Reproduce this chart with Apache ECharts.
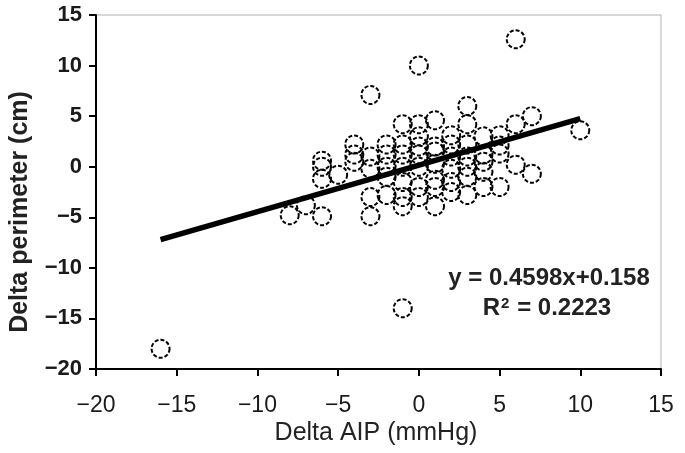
<!DOCTYPE html>
<html>
<head>
<meta charset="utf-8">
<script src="https://cdn.jsdelivr.net/npm/echarts@6/dist/echarts.min.js"></script>
<style>
html,body{margin:0;padding:0;background:#fff;}
#chart{width:685px;height:453px;}
</style>
</head>
<body>
<div id="chart"></div>
<script>
// Delta AIP (mmHg) values of the observations
const deltaAIP = [
  -16,
  -8, -7,
  -6, -6, -6, -6,
  -5,
  -4, -4, -4,
  -3, -3, -3, -3, -3,
  -2, -2, -2, -2, -2,
  -1, -1, -1, -1, -1, -1, -1, -1,
  0, 0, 0, 0, 0, 0, 0, 0,
  1, 1, 1, 1, 1, 1, 1,
  2, 2, 2, 2, 2, 2,
  3, 3, 3, 3, 3, 3, 3,
  4, 4, 4, 4, 4,
  5, 5, 5, 5,
  6, 6, 6,
  7, 7,
  10
];
// Delta perimeter (cm) values of the observations
const deltaPerimeter = [
  -18,
  -4.8, -3.8,
  0.6, 0, -1.2, -4.9,
  -0.8,
  2.2, 1.2, 0.5,
  7.1, 1, -0.2, -3, -4.9,
  2.2, 1.2, 0, -1, -2.8,
  4.2, 2.2, 1.2, 0, -1.5, -3, -3.9, -14,
  10, 4.2, 3, 2, 1.2, 0, -2, -3,
  4.6, 2, 1.5, 0.3, -1.3, -2, -3.9,
  3.1, 2.2, 1, -0.2, -1.5, -2.5,
  6, 4.2, 2.2, 1, 0, -1, -2.8,
  3, 1.2, 0.5, -0.5, -2,
  3.1, 2.1, 1.3, -2,
  12.6, 4.2, 0.2,
  5, -0.7,
  3.6
];
// Fitted trend line end points
const trendX = [-16, 10];
const trendY = [-7.2, 4.76];
const equationText = 'y = 0.4598x+0.158';
const r2Text = 'R{sup|2} = 0.2223';
const xName = 'Delta AIP (mmHg)';
const yName = 'Delta perimeter (cm)';

const points = deltaAIP.map((x, i) => [x, deltaPerimeter[i]]);
const trend = trendX.map((x, i) => [x, trendY[i]]);

const fontFam = '"Liberation Sans", Arial, Helvetica, sans-serif';
const minus = v => String(v).replace('-', '\u2212');

const chart = echarts.init(document.getElementById('chart'), null, {renderer: 'canvas'});
chart.setOption({
  animation: false,
  backgroundColor: '#fff',
  grid: {left: 96, right: 24, top: 15, bottom: 84, show: true, borderColor: '#b0b0b0', borderWidth: 1},
  xAxis: {
    type: 'value', min: -20, max: 15, interval: 5,
    axisLine: {onZero: false, lineStyle: {color: '#000', width: 2}},
    axisTick: {show: true, inside: false, length: 7, lineStyle: {color: '#000', width: 2}},
    axisLabel: {fontFamily: fontFam, fontSize: 23, color: '#1a1a1a', margin: 25, formatter: minus},
    splitLine: {show: false}
  },
  yAxis: {
    type: 'value', min: -20, max: 15, interval: 5,
    axisLine: {onZero: false, lineStyle: {color: '#000', width: 2}},
    axisTick: {show: true, inside: false, length: 7, lineStyle: {color: '#000', width: 2}},
    axisLabel: {fontFamily: fontFam, fontSize: 22, fontWeight: 'bold', color: '#1a1a1a', margin: 14, formatter: minus},
    splitLine: {show: false}
  },
  series: [
    {
      type: 'scatter',
      data: points,
      symbol: 'circle',
      symbolSize: 18,
      itemStyle: {color: 'rgba(255,255,255,0)', borderColor: '#000', borderWidth: 2, borderType: [4, 2], opacity: 1},
      z: 2
    },
    {
      type: 'line',
      data: trend,
      symbol: 'none',
      lineStyle: {color: '#000', width: 5.5},
      z: 3
    }
  ],
  graphic: [
    {type: 'text', x: 376, y: 433, style: {text: xName, font: '25px ' + fontFam, fill: '#222', align: 'center', verticalAlign: 'middle'}},
    {type: 'text', x: 20, y: 212, rotation: Math.PI / 2, style: {text: yName, font: 'bold 25px ' + fontFam, fill: '#222', align: 'center', verticalAlign: 'middle'}},
    {type: 'text', x: 549, y: 278, style: {text: equationText, font: 'bold 24px ' + fontFam, fill: '#222', align: 'center', verticalAlign: 'middle'}},
    {type: 'text', x: 547, y: 308, style: {
      text: r2Text, font: 'bold 24px ' + fontFam, fill: '#222', align: 'center', verticalAlign: 'middle',
      rich: {sup: {fontSize: 15, fontWeight: 'bold', fontFamily: fontFam, fill: '#222', padding: [0, 1, 9, 1]}}
    }}
  ]
});
</script>
</body>
</html>
